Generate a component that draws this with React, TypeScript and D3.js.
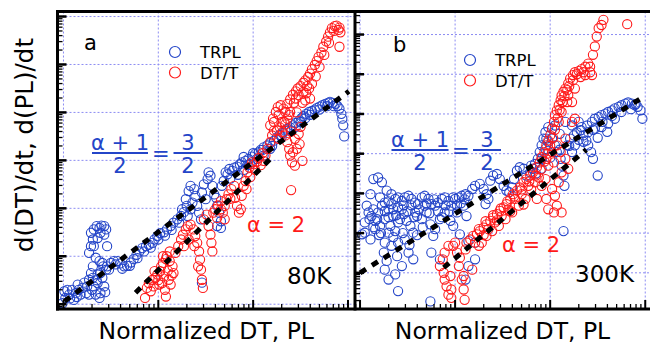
import * as d3 from "d3";

// All point values are log10 of the (unlabelled) normalized quantities: [log x, log y]
type P = [number, number];

// ---- panel a, 80K ----
const trplA: P[] = [
  [-0.01, 0.02], [0.02, 0.13], [0.06, 0.2], [0.09, 0.3], [0.13, 0.23], [0.04, 0.3], [0.15, 0.41], [0.01, 0.27],
  [0.11, 0.09], [0.18, 0.2], [0.2, 0.34], [0.24, 0.23], [0.25, 0.37], [0.27, 0.51], [0.29, 0.65], [0.31, 0.55],
  [0.32, 0.37], [0.34, 0.2], [0.38, 0.13], [0.39, 0.23], [0.36, 0.44], [0.41, 0.55], [0.43, 0.37], [0.45, 0.72],
  [0.42, 0.79], [0.39, 0.65],
  [0.07, 0.12], [0.16, 0.3], [0.22, 0.45], [0.14, 0.15], [0.3, 0.3], [0.35, 0.5], [0.27, 0.2], [0.44, 0.25], [0.36, 0.62],
  [0.27, 1.07], [0.29, 1.21], [0.31, 1.35], [0.29, 1.49], [0.32, 1.56], [0.35, 1.63], [0.38, 1.59], [0.4, 1.64],
  [0.43, 1.63], [0.45, 1.56], [0.43, 1.45], [0.39, 1.49], [0.36, 1.38], [0.32, 1.21], [0.34, 0.97], [0.38, 0.9],
  [0.41, 0.86], [0.46, 1.21], [0.31, 0.79],
  [0.46, 0.79], [0.5, 0.86], [0.53, 0.9], [0.57, 0.9], [0.6, 0.85], [0.64, 0.79], [0.67, 0.8], [0.71, 0.87],
  [0.74, 0.94], [0.77, 1.03], [0.8, 1.1], [0.83, 1.17], [0.87, 1.21], [0.9, 1.24], [0.94, 1.28], [0.96, 1.35],
  [0.99, 1.42], [1.02, 1.48], [1.06, 1.5], [1.09, 1.56], [1.13, 1.63], [1.16, 1.7], [1.2, 1.77], [1.24, 1.84],
  [1.27, 1.92],
  [0.48, 0.72], [0.55, 0.83], [0.62, 0.74], [0.7, 0.8], [0.78, 0.96], [0.85, 1.1], [0.92, 1.18], [1.0, 1.35],
  [1.07, 1.43], [1.14, 1.55], [1.22, 1.7], [1.25, 1.98], [1.3, 2.05],
  [1.29, 2.19], [1.32, 2.36], [1.34, 2.47], [1.38, 2.4], [1.39, 2.26], [1.36, 2.12], [1.41, 2.05], [1.43, 1.91],
  [1.45, 1.77], [1.46, 2.33], [1.48, 2.5], [1.52, 2.61], [1.53, 2.75], [1.55, 2.68], [1.57, 2.47], [1.5, 2.19],
  [1.31, 1.84], [1.34, 1.98], [1.46, 0.45], [1.62, 1.63],
  [1.59, 2.29], [1.61, 2.22], [1.64, 1.91], [1.66, 1.73], [1.66, 1.59], [1.62, 2.05], [1.67, 2.47], [1.69, 2.57],
  [1.71, 2.75], [1.73, 2.71], [1.75, 2.82], [1.78, 2.78], [1.8, 2.85], [1.83, 2.87], [1.86, 2.92], [1.88, 2.96],
  [1.92, 2.99], [1.95, 3.03], [1.99, 3.08], [2.02, 3.13], [2.06, 3.17], [2.08, 3.22], [2.11, 3.27], [2.15, 3.31],
  [2.18, 3.36], [2.22, 3.41], [2.25, 3.48], [2.28, 3.53], [2.31, 3.57], [2.34, 3.62], [2.36, 3.66], [2.39, 3.69],
  [2.42, 3.73], [2.45, 3.78], [2.48, 3.83], [2.51, 3.88], [2.53, 3.92], [2.56, 3.97], [2.59, 4.01], [2.62, 4.03],
  [2.65, 4.06], [2.67, 4.09], [2.7, 4.12], [2.73, 4.15], [2.76, 4.18], [2.79, 4.2], [2.81, 4.22], [2.84, 4.2],
  [2.87, 4.18], [2.89, 4.13], [2.91, 4.08], [2.93, 3.97], [2.94, 3.87], [2.95, 3.73], [2.96, 3.5],
  [1.97, 2.92], [2.04, 3.03], [2.11, 3.1], [2.18, 3.24],
  [1.76, 2.62], [1.84, 2.7], [1.9, 2.8], [1.94, 2.9], [1.9, 3.07], [2.0, 3.15], [2.1, 3.22], [2.2, 3.3],
  [2.3, 3.48], [2.4, 3.62], [2.5, 3.8], [2.6, 3.95], [2.7, 4.06], [2.78, 4.13], [2.85, 4.13], [2.45, 3.7], [2.55, 3.88],
];

const dttA: P[] = [
  [0.86, 0.13], [0.88, 0.34], [0.9, 0.44], [0.94, 0.51], [0.97, 0.55], [0.99, 0.62], [1.02, 0.69], [1.03, 0.79],
  [1.05, 0.86], [1.08, 0.94], [1.09, 1.0], [1.12, 0.9], [1.15, 0.79], [1.16, 0.65], [1.06, 0.58], [1.04, 0.44],
  [1.07, 0.3], [1.08, 0.16], [1.11, 0.51], [1.01, 0.41], [0.95, 0.37], [0.92, 0.27], [1.13, 0.41],
  [0.96, 0.69], [1.0, 0.5], [1.1, 0.7], [1.14, 0.6], [1.05, 1.0], [1.12, 1.1],
  [1.18, 1.07], [1.21, 1.21], [1.24, 1.35], [1.26, 1.45], [1.29, 1.56], [1.31, 1.63], [1.34, 1.66], [1.37, 1.56],
  [1.39, 1.42], [1.41, 1.28], [1.43, 1.1], [1.44, 0.93], [1.45, 0.72], [1.46, 0.51], [1.47, 0.34], [1.42, 0.79],
  [1.38, 1.21], [1.32, 1.35], [1.27, 1.21], [1.48, 1.77], [1.51, 1.87],
  [1.53, 1.63], [1.55, 1.45], [1.56, 1.28], [1.57, 1.1], [1.58, 1.91], [1.6, 1.98], [1.63, 2.06], [1.66, 2.15],
  [1.68, 1.91], [1.7, 1.77], [1.72, 2.19], [1.74, 2.29], [1.77, 2.4], [1.8, 2.47], [1.81, 2.22], [1.83, 2.05],
  [1.85, 1.91], [1.87, 1.98], [1.88, 2.26], [1.9, 2.47], [1.92, 2.57], [1.94, 2.75], [1.96, 2.85], [1.99, 2.96],
  [2.01, 2.92], [2.04, 2.97], [2.08, 2.9], [2.11, 2.99], [2.13, 3.1], [2.15, 3.24], [2.18, 3.38], [2.2, 3.52],
  [2.22, 3.62], [2.25, 3.62], [2.28, 3.69], [2.31, 3.59], [2.34, 3.52], [2.36, 3.38], [2.38, 3.24], [2.39, 3.1],
  [2.41, 2.96], [2.44, 2.89], [2.42, 3.17], [2.46, 3.24], [2.49, 3.34], [2.52, 2.99], [2.4, 2.38],
  [1.62, 1.8], [1.66, 1.98], [1.7, 2.05], [1.76, 2.2], [1.93, 2.4], [1.97, 2.65], [2.02, 2.8], [2.06, 3.05], [2.1, 3.15],
  [2.18, 3.73], [2.21, 3.87], [2.24, 4.01], [2.26, 4.11], [2.29, 4.15], [2.32, 4.08], [2.34, 4.01], [2.36, 4.18],
  [2.39, 4.27], [2.42, 4.37], [2.45, 4.44], [2.47, 4.5], [2.5, 4.55], [2.53, 4.62], [2.55, 4.67], [2.58, 4.74],
  [2.6, 4.81], [2.62, 4.9], [2.65, 4.99], [2.67, 5.07], [2.69, 5.16], [2.72, 5.25], [2.74, 5.37], [2.77, 5.48],
  [2.79, 5.58], [2.81, 5.67], [2.83, 5.76], [2.86, 5.8], [2.88, 5.81], [2.91, 5.77], [2.92, 5.67], [2.91, 5.37],
  [2.45, 4.29], [2.48, 4.36], [2.53, 4.43], [2.59, 4.5], [2.6, 4.29], [2.55, 4.25], [2.39, 4.01], [2.36, 3.87],
  [2.22, 3.8], [2.27, 3.95], [2.3, 3.8], [2.34, 3.75], [2.4, 3.6], [2.44, 3.45], [2.48, 3.55], [2.5, 3.7],
  [2.46, 4.0], [2.52, 4.2], [2.56, 4.4], [2.62, 4.6], [2.66, 4.75], [2.7, 4.95], [2.75, 5.2], [2.8, 5.45],
  [2.85, 5.7], [2.9, 5.72], [2.57, 4.55], [2.43, 4.2], [2.38, 3.95], [2.33, 3.8], [2.27, 3.45],
];

const fitTrplA: P[] = [[0.01, 0.06], [3.01, 4.44]];
const fitDttA: P[] = [[0.76, 0.24], [2.18, 3.03]];

// ---- panel b, 300K ----
const trplB: P[] = [
  [0.02, 1.97], [0.05, 2.27], [0.09, 2.52], [0.11, 2.98], [0.14, 3.36], [0.19, 3.4], [0.23, 3.28], [0.28, 3.07],
  [0.07, 2.69], [0.12, 2.43], [0.16, 2.31], [0.19, 2.52], [0.23, 2.69], [0.26, 2.77], [0.3, 2.6], [0.33, 2.73],
  [0.37, 2.86], [0.4, 2.9], [0.44, 2.81], [0.47, 2.9], [0.51, 2.94], [0.54, 2.86], [0.58, 2.77], [0.61, 2.73],
  [0.65, 2.9], [0.68, 2.94], [0.72, 2.86], [0.75, 2.73], [0.79, 2.69], [0.82, 2.77], [0.86, 2.86], [0.89, 2.9],
  [0.93, 2.81], [0.96, 2.69], [1.0, 2.86], [1.04, 2.9], [1.07, 2.94], [1.11, 2.98], [1.14, 2.94],
  [0.05, 2.01], [0.11, 1.84], [0.16, 2.1], [0.21, 2.18], [0.26, 2.35], [0.32, 2.18], [0.35, 2.43], [0.3, 2.01],
  [0.37, 2.05], [0.4, 2.27], [0.46, 2.48], [0.49, 2.31], [0.53, 2.18], [0.56, 2.01], [0.47, 1.84], [0.4, 1.76],
  [0.33, 1.68], [0.26, 1.76], [0.25, 1.51], [0.28, 1.3], [0.39, 1.42], [0.51, 1.51], [0.56, 1.34], [0.44, 1.17],
  [0.6, 2.43], [0.65, 2.35], [0.7, 2.52], [0.74, 2.22], [0.79, 2.1], [0.77, 1.93], [0.84, 2.35], [0.89, 2.52],
  [0.95, 2.31], [0.98, 2.18], [1.02, 2.52], [1.09, 2.69], [1.12, 2.43], [1.05, 1.97], [1.14, 1.8], [1.21, 1.76],
  [0.75, 1.51], [0.84, 1.34], [0.26, 1.08], [0.37, 0.96], [0.3, 0.83], [0.4, 0.54], [0.74, 0.28], [1.14, 1.17],
  [1.11, 0.83], [1.21, 1.34], [0.14, 2.6], [0.21, 2.9], [0.33, 2.98], [0.44, 2.6], [0.58, 2.52], [0.68, 2.69],
  [0.1, 2.35], [0.14, 2.15], [0.18, 2.35], [0.22, 2.0], [0.26, 2.55], [0.3, 2.4], [0.35, 2.6], [0.38, 2.45],
  [0.42, 2.35], [0.46, 2.7], [0.5, 2.55], [0.54, 2.7], [0.57, 2.4], [0.62, 2.6], [0.66, 2.15], [0.7, 2.75],
  [0.73, 2.5], [0.78, 2.85], [0.82, 2.55], [0.86, 2.4], [0.9, 2.7], [0.94, 2.55], [0.98, 2.9], [1.02, 2.7],
  [1.06, 2.75], [1.1, 2.85], [0.3, 2.8], [0.4, 2.65], [0.2, 1.95], [0.35, 1.9], [0.45, 2.0], [0.52, 1.7], [0.6, 1.95],
  [1.18, 3.11], [1.21, 3.19], [1.26, 3.24], [1.3, 3.11], [1.33, 2.98], [1.35, 2.86], [1.32, 2.73], [1.37, 3.32],
  [1.4, 3.45], [1.44, 3.49], [1.47, 3.36], [1.51, 3.19], [1.54, 3.07], [1.57, 3.03], [1.6, 3.15], [1.62, 3.36],
  [1.65, 3.57], [1.68, 3.66], [1.72, 3.62], [1.75, 3.45], [1.79, 3.53], [1.82, 3.62], [1.84, 3.74], [1.87, 3.87],
  [1.89, 4.04], [1.91, 4.21], [1.93, 4.38], [1.95, 4.54], [1.98, 4.67], [1.91, 3.87], [1.95, 4.12], [1.98, 4.29],
  [2.02, 4.38], [2.05, 4.21], [2.07, 4.04], [2.11, 3.87], [2.12, 3.7], [2.14, 3.45], [2.15, 3.19], [2.14, 2.05],
  [2.18, 4.21], [2.21, 4.38], [2.25, 4.46], [2.28, 4.54], [2.32, 4.59], [2.35, 4.46], [2.38, 4.33], [2.4, 4.21],
  [2.43, 4.04], [2.45, 3.87], [2.5, 3.45], [2.26, 4.21], [2.23, 4.04], [2.3, 4.8], [2.33, 4.67], [2.39, 4.71],
  [2.44, 4.8], [2.47, 4.88], [2.51, 4.92], [2.54, 4.97], [2.58, 5.01], [2.61, 5.05], [2.65, 5.09], [2.68, 5.14],
  [2.72, 5.18], [2.75, 5.22], [2.79, 5.26], [2.82, 5.29], [2.86, 5.26], [2.89, 5.22], [2.92, 5.18], [2.95, 5.09],
  [2.97, 4.88], [2.4, 4.54], [2.47, 4.63], [2.54, 4.67], [2.61, 4.76], [2.68, 4.88], [2.05, 4.71], [2.16, 4.8],
  [2.23, 4.71], [1.91, 3.62], [1.96, 4.38], [2.02, 4.63],
  [2.45, 4.6], [2.55, 4.8], [2.65, 4.95], [2.75, 5.05], [2.85, 5.12], [2.9, 5.25], [2.5, 4.4], [2.6, 4.55],
  [2.35, 4.3], [2.2, 4.2], [2.3, 4.35], [2.1, 4.5], [1.85, 3.5], [1.8, 3.7], [2.0, 3.9], [2.1, 4.1],
];

const dttB: P[] = [
  [0.84, 1.17], [0.87, 1.34], [0.88, 1.0], [0.89, 0.83], [0.91, 0.66], [0.95, 0.92], [0.96, 0.58], [0.96, 0.37],
  [0.93, 0.45], [0.98, 1.68], [1.0, 1.76], [1.02, 1.51], [1.04, 1.17], [1.07, 0.83], [1.09, 0.58], [1.1, 0.32],
  [1.09, 0.92], [1.05, 1.38], [1.11, 1.59], [1.12, 1.76], [1.16, 1.84], [1.19, 1.93], [1.21, 1.76], [1.18, 1.08],
  [0.89, 1.51], [0.93, 1.68],
  [1.23, 1.97], [1.26, 2.05], [1.3, 2.14], [1.33, 2.22], [1.37, 2.31], [1.4, 2.39], [1.44, 2.48], [1.47, 2.56],
  [1.51, 2.65], [1.54, 2.73], [1.58, 2.86], [1.61, 2.98], [1.65, 3.07], [1.68, 3.15], [1.72, 3.28], [1.75, 3.36],
  [1.79, 3.45], [1.82, 3.53], [1.86, 3.66], [1.89, 3.78], [1.91, 3.91], [1.94, 4.04], [1.96, 4.21], [1.98, 4.33],
  [2.0, 4.46], [2.02, 4.63], [2.04, 4.8], [2.05, 4.97], [2.07, 5.09], [2.09, 5.22], [2.11, 5.35], [2.12, 5.47],
  [2.14, 5.56], [2.16, 5.64], [2.19, 5.77], [2.21, 5.89], [2.24, 5.98], [2.26, 6.05], [2.3, 6.08], [2.33, 6.13],
  [2.37, 6.19], [2.4, 6.27], [2.42, 6.19], [2.44, 5.98], [2.45, 6.49], [2.47, 6.7], [2.49, 6.95], [2.51, 7.16],
  [2.54, 7.24], [2.56, 7.37], [2.81, 7.26], [2.42, 6.05],
  [1.25, 1.68], [1.28, 1.76], [1.33, 1.93], [1.39, 2.05], [1.46, 2.18], [1.53, 2.35], [1.6, 2.52], [1.67, 2.69],
  [1.74, 2.86], [1.86, 2.86], [1.96, 2.86], [1.98, 2.6], [2.04, 2.52], [2.07, 2.69], [2.12, 2.52], [2.05, 2.94],
  [2.02, 3.11], [2.09, 3.28], [2.12, 3.53], [2.19, 3.62], [2.16, 3.87], [2.11, 4.04], [2.07, 4.21], [2.16, 4.38],
  [2.23, 4.8], [2.26, 4.88], [1.95, 3.36], [1.91, 3.19], [1.88, 3.4], [1.84, 3.28], [1.77, 3.19], [1.7, 2.98],
  [1.63, 2.86], [1.56, 2.6], [1.49, 2.43], [1.42, 2.27], [1.35, 2.1], [2.09, 4.8], [2.12, 5.05], [2.18, 5.3],
  [2.19, 5.47], [2.02, 4.04], [2.04, 3.78], [1.98, 3.7], [1.96, 3.87], [2.23, 5.3], [2.26, 5.64], [2.32, 5.93],
  [2.37, 5.98],
  [1.25, 2.1], [1.32, 2.3], [1.4, 2.45], [1.48, 2.62], [1.55, 2.8], [1.62, 2.92], [1.7, 3.1], [1.78, 3.3],
  [1.85, 3.45], [1.9, 3.6], [1.94, 3.8], [1.97, 4.0], [2.0, 4.2], [2.03, 4.4], [2.05, 4.6], [2.08, 4.9],
  [2.1, 5.1], [2.13, 5.3], [2.15, 5.45], [2.18, 5.6], [2.2, 5.7], [2.24, 5.85], [2.28, 6.0], [2.35, 6.05],
  [1.3, 1.95], [1.44, 2.32], [1.58, 2.55], [1.72, 2.72], [1.8, 3.1],
];

const fitTrplB: P[] = [[0.0, 1.0], [2.96, 5.4]];
const fitDttB: P[] = [[0.88, 1.13], [2.38, 4.1]];

const BLUE = "#2445c8";
const RED = "#ff1a1a";
const GRID = "#8c8cf2";
const FONT = "DejaVu Sans, Verdana, sans-serif";

type PanelProps = {
  id: string;
  left: number;
  right: number;
  top: number;
  bottom: number;
  xLog: [number, number];
  yLog: [number, number];
  trpl: P[];
  dtt: P[];
  fitTrpl: P[];
  fitDtt: P[];
  letter: string;
  letterPos: [number, number];
  legendPos: [number, number];
  frac: { cx1: number; cx2: number; line: number; w1: number; w2: number };
  alphaPos: [number, number];
  temp: string;
  tempPos: [number, number];
};

const Panel = (p: PanelProps) => {
  const x = d3.scaleLog().domain([10 ** p.xLog[0], 10 ** p.xLog[1]]).range([p.left, p.right]);
  const y = d3.scaleLog().domain([10 ** p.yLog[0], 10 ** p.yLog[1]]).range([p.bottom, p.top]);
  const isMajor = (t: number) => Math.abs(Math.log10(t) - Math.round(Math.log10(t))) < 1e-9;
  const xt = x.ticks();
  const yt = y.ticks();
  const px = (d: P) => x(10 ** d[0]);
  const py = (d: P) => y(10 ** d[1]);
  const line = d3.line<P>().x(px).y(py);
  const f = p.frac;
  const fs = 21;
  return (
    <g>
      <defs>
        <clipPath id={`clip-${p.id}`}>
          <rect x={p.left + 1} y={p.top + 1} width={p.right - p.left - 2} height={p.bottom - p.top - 2} />
        </clipPath>
      </defs>
      {/* grid */}
      <g stroke={GRID} strokeWidth={1} strokeDasharray="2,2">
        {xt.filter(isMajor).map((t, i) => (
          <line key={i} x1={x(t)} x2={x(t)} y1={p.top} y2={p.bottom} />
        ))}
        {yt.filter(isMajor).map((t, i) => (
          <line key={i} x1={p.left} x2={p.right} y1={y(t)} y2={y(t)} />
        ))}
      </g>
      <g clipPath={`url(#clip-${p.id})`}>
        <g fill="none" stroke={BLUE} strokeWidth={1.1}>
          {p.trpl.map((d, i) => (
            <circle key={i} cx={px(d)} cy={py(d)} r={4.6} />
          ))}
        </g>
        <g fill="none" stroke={RED} strokeWidth={1.1}>
          {p.dtt.map((d, i) => (
            <circle key={i} cx={px(d)} cy={py(d)} r={4.6} />
          ))}
        </g>
        <path d={line(p.fitTrpl)!} stroke="#000" strokeWidth={5} strokeDasharray="7,7" fill="none" />
        <path d={line(p.fitDtt)!} stroke="#000" strokeWidth={5} strokeDasharray="7,7" fill="none" />
      </g>
      {/* ticks, pointing inward */}
      <g stroke="#000">
        {xt.map((t, i) => (
          <line key={i} x1={x(t)} x2={x(t)} y1={p.bottom} y2={p.bottom - (isMajor(t) ? 9 : 5)} strokeWidth={isMajor(t) ? 2 : 1.3} />
        ))}
        {yt.map((t, i) => (
          <line key={i} x1={p.left} x2={p.left + (isMajor(t) ? 9 : 5)} y1={y(t)} y2={y(t)} strokeWidth={isMajor(t) ? 2.5 : 1.3} />
        ))}
      </g>
      <line x1={p.left} x2={p.left} y1={p.top - 1.5} y2={p.bottom + 1.5} stroke="#000" strokeWidth={3} />
      {/* annotations */}
      <g fontFamily={FONT}>
        <text x={p.letterPos[0]} y={p.letterPos[1]} fontSize={21}>{p.letter}</text>
        <circle cx={p.legendPos[0]} cy={p.legendPos[1]} r={5.5} fill="none" stroke={BLUE} strokeWidth={1.2} />
        <circle cx={p.legendPos[0]} cy={p.legendPos[1] + 20.5} r={5.5} fill="none" stroke={RED} strokeWidth={1.2} />
        <text x={p.legendPos[0] + 25} y={p.legendPos[1] + 6} fontSize={16.5}>TRPL</text>
        <text x={p.legendPos[0] + 25} y={p.legendPos[1] + 26.5} fontSize={16.5}>DT/T</text>
        <g fill={BLUE} fontSize={fs} textAnchor="middle">
          <text x={f.cx1} y={f.line - 3}>α + 1</text>
          <line x1={f.cx1 - f.w1 / 2} x2={f.cx1 + f.w1 / 2} y1={f.line} y2={f.line} stroke={BLUE} strokeWidth={2} />
          <text x={f.cx1} y={f.line + 20}>2</text>
          <text x={(f.cx1 + f.w1 / 2 + f.cx2 - f.w2 / 2) / 2} y={f.line + 7.5}>=</text>
          <text x={f.cx2} y={f.line - 3}>3</text>
          <line x1={f.cx2 - f.w2 / 2} x2={f.cx2 + f.w2 / 2} y1={f.line} y2={f.line} stroke={BLUE} strokeWidth={2} />
          <text x={f.cx2} y={f.line + 20}>2</text>
        </g>
        <text x={p.alphaPos[0]} y={p.alphaPos[1]} fill={RED} fontSize={fs}>α = 2</text>
        <text x={p.tempPos[0]} y={p.tempPos[1]} fontSize={23}>{p.temp}</text>
        <text x={(p.left + p.right) / 2} y={339} fontSize={23.5} textAnchor="middle">Normalized DT, PL</text>
      </g>
    </g>
  );
};

export default function App() {
  return (
    <svg width={650} height={345} style={{ display: "block", position: "absolute", left: 0, top: 0, background: "#fff" }}>
      <Panel
        id="a" left={57.5} right={355} top={11.5} bottom={309}
        xLog={[-0.063, 3.074]} yLog={[-0.1, 6.105]}
        trpl={trplA} dtt={dttA} fitTrpl={fitTrplA} fitDtt={fitDttA}
        letter="a" letterPos={[84, 50]} legendPos={[175, 52]}
        frac={{ cx1: 120, cx2: 188, line: 153, w1: 56, w2: 29 }}
        alphaPos={[247, 232]} temp="80K" tempPos={[287, 284]}
      />
      <Panel
        id="b" left={355} right={650} top={11.5} bottom={309}
        xLog={[-0.053, 3.05]} yLog={[0.089, 7.58]}
        trpl={trplB} dtt={dttB} fitTrpl={fitTrplB} fitDtt={fitDttB}
        letter="b" letterPos={[393, 52]} legendPos={[470, 60]}
        frac={{ cx1: 420, cx2: 487, line: 150, w1: 57, w2: 28 }}
        alphaPos={[502, 252]} temp="300K" tempPos={[575, 282]}
      />
      <line x1={56} x2={650} y1={11.5} y2={11.5} stroke="#000" strokeWidth={3} />
      <line x1={56} x2={650} y1={309} y2={309} stroke="#000" strokeWidth={3} />
      <text
        transform="translate(33,145) rotate(-90)"
        textAnchor="middle" fontFamily={FONT} fontSize={24.5}
      >
        d(DT)/dt, d(PL)/dt
      </text>
    </svg>
  );
}
